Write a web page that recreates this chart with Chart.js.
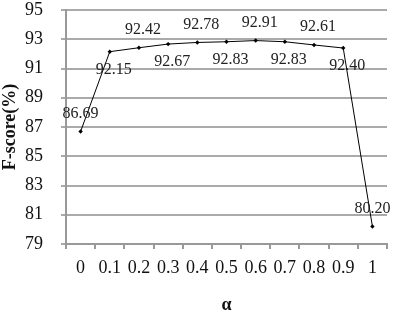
<!DOCTYPE html>
<html>
<head>
<meta charset="utf-8">
<script src="https://cdn.jsdelivr.net/npm/chart.js@4.4.0/dist/chart.umd.min.js"></script>
<style>
  html, body { margin: 0; padding: 0; background: #fff; }
  #c { display: block; }
</style>
</head>
<body>
<canvas id="c" width="393" height="316"></canvas>
<script>
const alphas = ['0', '0.1', '0.2', '0.3', '0.4', '0.5', '0.6', '0.7', '0.8', '0.9', '1'];
const fscores = [86.69, 92.15, 92.42, 92.67, 92.78, 92.83, 92.91, 92.83, 92.61, 92.40, 80.20];
// label above (-1) or below (+1) the point
const labelSide = [-1, 1, -1, 1, -1, 1, -1, 1, -1, 1, -1];

const serif = "'Liberation Serif', 'Times New Roman', serif";

// draws the value labels next to each point
const valueLabels = {
    id: 'valueLabels',
    afterDatasetsDraw(chart) {
        const ctx = chart.ctx;
        const meta = chart.getDatasetMeta(0);
        ctx.save();
        ctx.font = '16px ' + serif;
        ctx.fillStyle = '#222';
        ctx.textAlign = 'center';
        ctx.textBaseline = 'middle';
        meta.data.forEach(function (pt, i) {
            let x = pt.x + (i === 0 || i === 10 ? 0 : 4);
            ctx.fillText(fscores[i].toFixed(2), x, pt.y + labelSide[i] * 18);
        });
        ctx.restore();
    }
};

const ctx = document.getElementById('c').getContext('2d');
new Chart(ctx, {
    type: 'line',
    data: {
        labels: alphas,
        datasets: [{
            data: fscores,
            borderColor: '#000',
            borderWidth: 1,
            backgroundColor: '#000',
            pointRadius: 2.2,
            pointStyle: 'rectRot',
            pointBorderWidth: 0,
            tension: 0
        }]
    },
    options: {
        responsive: false,
        animation: false,
        layout: { padding: { top: 0, right: 6, left: 0, bottom: 0 } },
        plugins: {
            legend: { display: false },
            tooltip: { enabled: false }
        },
        scales: {
            x: {
                offset: true,
                afterFit: function (scale) { scale.height = 72; },
                grid: {
                    offset: true,
                    drawOnChartArea: false,
                    drawTicks: true,
                    tickLength: 5,
                    color: '#999',
                    lineWidth: 2
                },
                border: { color: '#999', width: 2 },
                ticks: {
                    color: '#111',
                    font: { family: serif, size: 18 },
                    padding: 8,
                    maxRotation: 0,
                    autoSkip: false
                },
                title: {
                    display: true,
                    text: 'α',
                    color: '#111',
                    font: { family: serif, size: 18, weight: 'bold' },
                    padding: { top: 15, bottom: 0 }
                }
            },
            y: {
                min: 79,
                max: 95,
                afterFit: function (scale) {
                    scale.width = 66;
                    scale.paddingTop = 10;
                    scale.paddingBottom = 0;
                },
                ticks: {
                    stepSize: 2,
                    color: '#111',
                    font: { family: serif, size: 18, lineHeight: 1 },
                    padding: 18
                },
                grid: {
                    color: '#aaa',
                    lineWidth: 2,
                    tickLength: 5
                },
                border: { color: '#999', width: 2 },
                title: {
                    display: true,
                    text: 'F-score(%)',
                    color: '#111',
                    font: { family: serif, size: 18, weight: 'bold' },
                    padding: { top: 0, bottom: 3 }
                }
            }
        }
    },
    plugins: [valueLabels]
});
</script>
</body>
</html>
